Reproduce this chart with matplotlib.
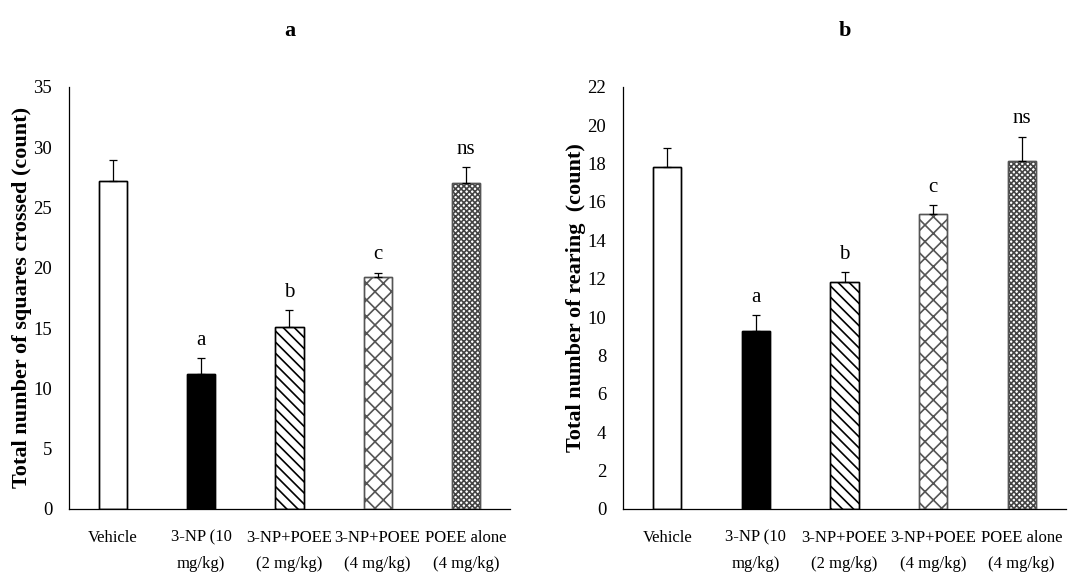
import matplotlib
matplotlib.use("Agg")
import matplotlib.pyplot as plt
import numpy as np

plt.rcParams['font.family'] = ['Liberation Serif', 'DejaVu Serif']
plt.rcParams['hatch.linewidth'] = 1.2

groups = ["Vehicle", "3-NP (10\nmg/kg)", "3-NP+POEE\n(2 mg/kg)",
          "3-NP+POEE\n(4 mg/kg)", "POEE alone\n(4 mg/kg)"]

squares_mean = [27.2, 11.2, 15.1, 19.2, 27.0]
squares_err = [1.7, 1.3, 1.4, 0.4, 1.35]
rearing_mean = [17.8, 9.3, 11.85, 15.4, 18.15]
rearing_err = [1.0, 0.8, 0.5, 0.45, 1.25]
sig_labels = ["", "a", "b", "c", "ns"]

faces = ["white", "black", "white", "white", "white"]
hatches = [None, None, "\\\\\\", "xx", "xxxxxx"]
hatch_cols = ["black", "black", "black", "#555555", "#444444"]

fig = plt.figure(figsize=(10.69, 5.77), dpi=100)
ax1 = fig.add_axes([0.0645, 0.118, 0.4125, 0.7314])
ax2 = fig.add_axes([0.5828, 0.118, 0.4144, 0.7314])


def draw(ax, means, errs, ymax, step, ylabel, title, lpad):
    x = np.arange(len(means))
    for i in x:
        ax.bar(i, means[i], width=0.32, color=faces[i], edgecolor=hatch_cols[i],
               hatch=hatches[i], linewidth=1.0, zorder=2)
        # outline drawn again over the hatch
        ax.bar(i, means[i], width=0.32, color="none", edgecolor="black" if i < 3 else "#555555",
               linewidth=1.0, zorder=3)
        ax.errorbar(i, means[i], yerr=[[0], [errs[i]]], fmt="none", ecolor="black",
                    elinewidth=0.9, capsize=3, capthick=0.9, zorder=4)
        if sig_labels[i]:
            ax.annotate(sig_labels[i], (i, means[i] + errs[i]), xytext=(0, 6),
                        textcoords="offset points", ha="center", va="bottom", fontsize=15)
    ax.set_xlim(-0.5, len(means) - 0.5)
    ax.set_ylim(0, ymax)
    ax.set_yticks(np.arange(0, ymax + 1, step))
    ax.set_xticks(x)
    ax.set_xticklabels(groups, fontsize=12, linespacing=1.85)
    ax.tick_params(axis="both", length=0)
    ax.tick_params(axis="y", labelsize=13.5, pad=12)
    ax.tick_params(axis="x", pad=15)
    for s in ["top", "right"]:
        ax.spines[s].set_visible(False)
    ax.spines["left"].set_linewidth(0.9)
    ax.spines["bottom"].set_linewidth(0.9)
    ax.set_ylabel(ylabel, fontsize=16, fontweight="bold", labelpad=lpad)
    ax.set_title(title, fontsize=16, fontweight="bold", pad=37)


draw(ax1, squares_mean, squares_err, 35, 5, "Total number of squares crossed (count)", "a", 1)
draw(ax2, rearing_mean, rearing_err, 22, 2, "Total number of rearing  (count)", "b", 1)

fig.savefig("out.png", dpi=100)
